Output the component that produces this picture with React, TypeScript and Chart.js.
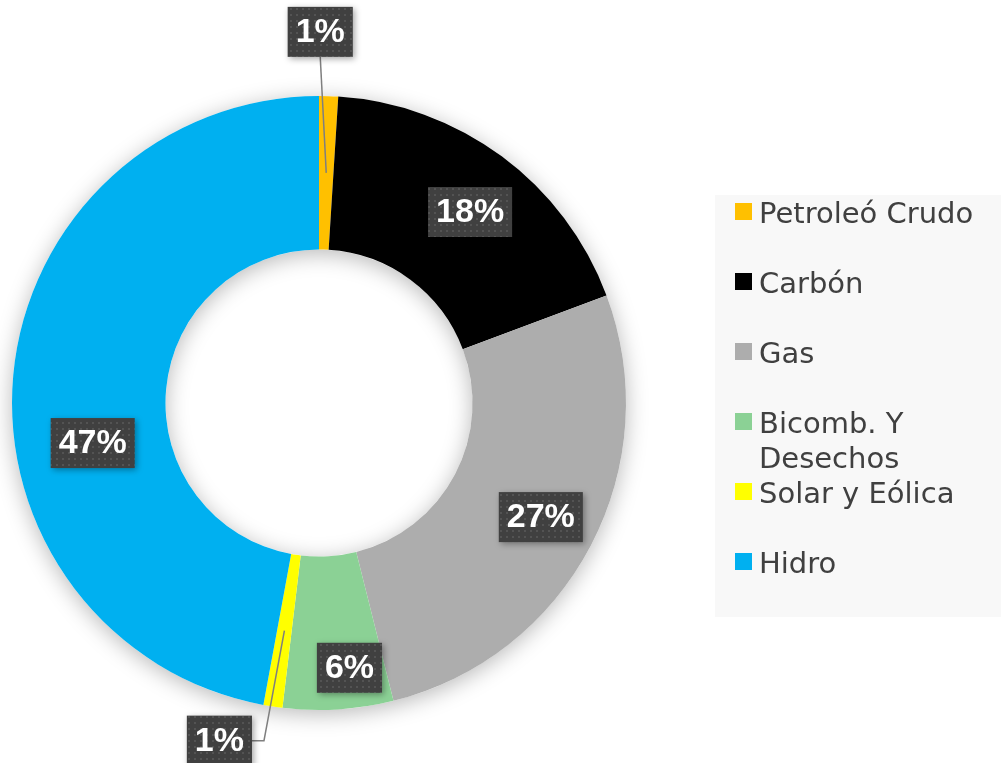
import { useEffect, useRef } from 'react';
import { Chart, registerables } from 'chart.js';

Chart.register(...registerables);

const categories = ['Petroleó Crudo', 'Carbón', 'Gas', 'Bicomb. Y Desechos', 'Solar y Eólica', 'Hidro'];
const shares = [1.0, 18.3, 26.8, 5.8, 1.0, 47.1];
const colors = ['#FFC000', '#000000', '#ADADAD', '#8BD195', '#FFFF00', '#00B0F0'];

// label offset from the mid-ring point of each slice; leader lines for outside labels
const labelPlacement = [
  { dx: -6, dy: -141, leader: 'straight' },
  { dx: 14, dy: -6, leader: '' },
  { dx: 18, dy: 7, leader: '' },
  { dx: 16, dy: 35, leader: '' },
  { dx: -65, dy: 110, leader: 'elbow' },
  { dx: 3, dy: 61, leader: '' },
];

const W = 1001;
const H = 763;

function makePattern(ctx: CanvasRenderingContext2D) {
  const c = document.createElement('canvas');
  c.width = 6;
  c.height = 6;
  const p = c.getContext('2d')!;
  p.fillStyle = '#404040';
  p.fillRect(0, 0, 6, 6);
  p.fillStyle = '#535353';
  p.fillRect(2, 2, 2, 2);
  return ctx.createPattern(c, 'repeat');
}

const ringShadow = {
  id: 'ringShadow',
  beforeDatasetsDraw(chart: any) {
    const arc = chart.getDatasetMeta(0).data[0];
    if (!arc) return;
    const { x, y, outerRadius, innerRadius } = arc.getProps(['x', 'y', 'outerRadius', 'innerRadius'], true);
    const ctx = chart.ctx;
    ctx.save();
    ctx.shadowColor = 'rgba(0,0,0,0.28)';
    ctx.shadowBlur = 22;
    ctx.shadowOffsetY = 4;
    ctx.fillStyle = '#ffffff';
    ctx.beginPath();
    ctx.arc(x, y, outerRadius, 0, Math.PI * 2);
    ctx.arc(x, y, innerRadius, 0, Math.PI * 2, true);
    ctx.fill();
    ctx.restore();
  },
};

const labelsAndLegend = {
  id: 'labelsAndLegend',
  afterDraw(chart: any) {
    const ctx: CanvasRenderingContext2D = chart.ctx;
    const meta = chart.getDatasetMeta(0);
    const ds = chart.data.datasets[0];
    const pattern = makePattern(ctx);

    // legend
    ctx.save();
    ctx.fillStyle = '#F8F8F8';
    ctx.fillRect(715, 195, 286, 422);
    ctx.font = '29px "DejaVu Sans"';
    ctx.textBaseline = 'alphabetic';
    ctx.textAlign = 'left';
    const labels: string[] = chart.data.labels;
    labels.forEach((lab, i) => {
      const base = 223 + i * 70;
      ctx.fillStyle = ds.backgroundColor[i];
      ctx.fillRect(735, base - 20, 17, 17);
      ctx.fillStyle = '#404040';
      const words = lab.split(' ');
      const lines: string[] = [];
      let cur = '';
      words.forEach((w) => {
        const t = cur ? cur + ' ' + w : w;
        if (ctx.measureText(t).width > 232 && cur) {
          lines.push(cur);
          cur = w;
        } else cur = t;
      });
      lines.push(cur);
      lines.forEach((ln, k) => ctx.fillText(ln, 759, base + k * 35));
    });
    ctx.restore();

    // data labels
    meta.data.forEach((arc: any, i: number) => {
      const { x, y, startAngle, endAngle, innerRadius, outerRadius } = arc.getProps(
        ['x', 'y', 'startAngle', 'endAngle', 'innerRadius', 'outerRadius'],
        true
      );
      const mid = (startAngle + endAngle) / 2;
      const r = (innerRadius + outerRadius) / 2;
      const ax = x + r * Math.cos(mid);
      const ay = y + r * Math.sin(mid);
      const pl = labelPlacement[i];
      const cx = ax + pl.dx;
      const cy = ay + pl.dy;
      const text = Math.round(ds.data[i]) + '%';
      ctx.save();
      ctx.font = 'bold 34px "Liberation Sans"';
      const tw = ctx.measureText(text).width;
      const bw = tw + 16;
      const bh = 50;
      const bx = cx - bw / 2;
      const by = cy - bh / 2;

      // leader lines
      ctx.strokeStyle = '#7F7F7F';
      ctx.lineWidth = 1.5;
      if (pl.leader === 'straight') {
        ctx.beginPath();
        ctx.moveTo(cx, by + bh);
        ctx.lineTo(ax, ay);
        ctx.stroke();
      } else if (pl.leader === 'elbow') {
        ctx.beginPath();
        ctx.moveTo(bx + bw, cy);
        ctx.lineTo(bx + bw + 12, cy);
        ctx.lineTo(ax, ay);
        ctx.stroke();
      }

      ctx.shadowColor = 'rgba(0,0,0,0.35)';
      ctx.shadowBlur = 6;
      ctx.shadowOffsetX = 2;
      ctx.shadowOffsetY = 2;
      ctx.fillStyle = pattern || '#404040';
      ctx.fillRect(bx, by, bw, bh);
      ctx.shadowColor = 'transparent';
      ctx.fillStyle = '#FFFFFF';
      ctx.textAlign = 'center';
      ctx.textBaseline = 'middle';
      ctx.fillText(text, cx, cy + 1);
      ctx.restore();
    });
  },
};

export default function App() {
  const ref = useRef<HTMLCanvasElement | null>(null);
  useEffect(() => {
    if (!ref.current) return;
    const chart = new Chart(ref.current, {
      type: 'doughnut',
      data: {
        labels: categories,
        datasets: [
          {
            data: shares,
            backgroundColor: colors,
            borderWidth: 0,
            hoverOffset: 0,
          },
        ],
      },
      options: {
        responsive: false,
        animation: false,
        events: [],
        cutout: '50%',
        layout: { padding: { left: 12, right: 375, top: 96, bottom: 53 } },
        plugins: {
          legend: { display: false },
          tooltip: { enabled: false },
        },
      },
      plugins: [ringShadow, labelsAndLegend],
    } as any);
    return () => chart.destroy();
  }, []);
  return (
    <div style={{ position: 'fixed', left: 0, top: 0, width: W, height: H, background: '#fff' }}>
      <canvas ref={ref} width={W} height={H} style={{ width: W, height: H, display: 'block' }} />
    </div>
  );
}
